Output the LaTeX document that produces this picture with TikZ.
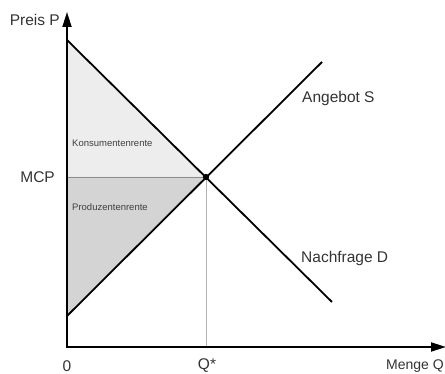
\documentclass[tikz,border=0pt]{standalone}
\usepackage{fontspec}
\setmainfont{Liberation Sans}
\usetikzlibrary{arrows.meta}
\begin{document}
\begin{tikzpicture}[x=1pt,y=1pt,
  axis/.style={line width=1.8pt,-{Triangle[length=15pt,width=9pt]}},
  curve/.style={line width=1.8pt},
  guide/.style={line width=0.8pt,draw=black!45},
  lbl/.style={font=\fontsize{15.5}{17}\selectfont,text=black!80,inner sep=0pt},
  small/.style={font=\fontsize{9.5}{11}\selectfont,text=black!75,inner sep=0pt,anchor=west}]
\useasboundingbox (0,0) rectangle (445,374);
% coordinates
\coordinate (O) at (67,27);
\coordinate (Ytip) at (67,362);
\coordinate (Xtip) at (446,27);
\coordinate (D0) at (67,334);
\coordinate (E) at (206,197);
\coordinate (D1) at (332,72);
\coordinate (S0) at (67,58);
\coordinate (S1) at (322,312);
\coordinate (M) at (67,197);
\coordinate (Qb) at (206,27);
% areas
\fill[black!7] (D0) -- (E) -- (M) -- cycle;
\fill[black!17] (M) -- (E) -- (S0) -- cycle;
% guides
\draw[guide] (M) -- (E);
\draw[guide,draw=black!30] (E) -- (Qb);
% curves
\draw[curve] (D0) -- (D1);
\draw[curve] (S0) -- (S1);
\fill (E) circle (3.2pt);
% axes
\draw[axis] ([yshift=-0.9pt]O) -- (Ytip);
\draw[axis] ([xshift=-0.9pt]O) -- (Xtip);
% labels
\node[lbl,anchor=east] (lP) at (60,354) {Preis P};
\node[lbl,anchor=east] (lM) at (55,197) {MCP};
\node[lbl] (l0) at (67,8) {0};
\node[lbl] (lQ) at (207,8) {Q*};
\node[lbl,anchor=east,font=\fontsize{14}{16}\selectfont] (lX) at (444,8) {Menge Q};
\node[lbl,anchor=west] (lS) at (302,276) {Angebot S};
\node[lbl,anchor=west] (lD) at (301,116) {Nachfrage D};
\node[small] (lK) at (72,231) {Konsumentenrente};
\node[small] (lPr) at (72,167) {Produzentenrente};
\end{tikzpicture}
\end{document}
